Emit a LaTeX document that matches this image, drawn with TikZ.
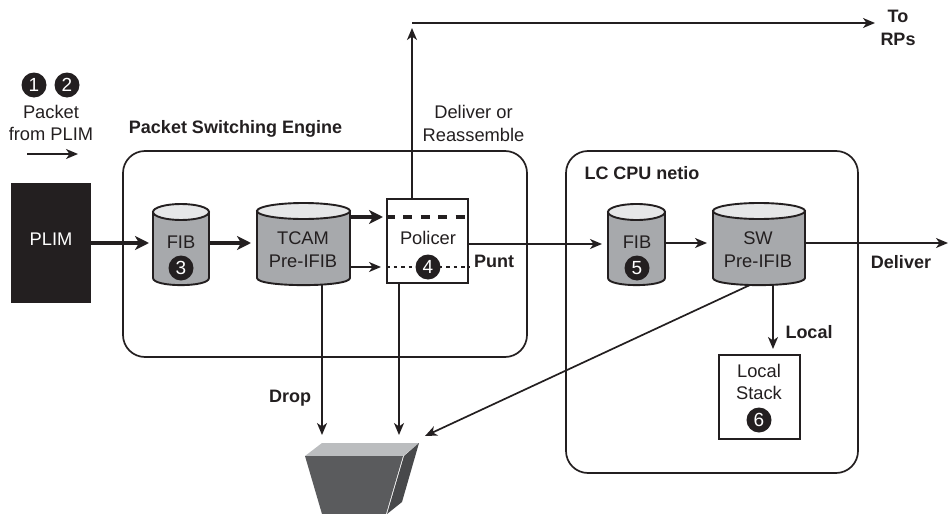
\documentclass[tikz,border=0pt]{standalone}
\usepackage{fontspec}
\setmainfont{Liberation Sans}
\usetikzlibrary{arrows.meta}
\definecolor{ink}{HTML}{231F20}
\definecolor{cylgray}{HTML}{A7A9AC}
\definecolor{cyltop}{HTML}{E6E7E8}
\definecolor{bintop}{HTML}{BBBDBF}
\definecolor{binfront}{HTML}{5A5B5D}
\definecolor{binside}{HTML}{48494B}
\tikzset{
  x=1pt,y=-1pt,
  txt/.style={font=\fontsize{18.3}{22.5}\selectfont,text=ink,align=center,inner sep=0pt},
  btxt/.style={font=\fontsize{18}{23}\bfseries\selectfont,text=ink,align=center,inner sep=0pt},
  wire/.style={draw=ink,line width=1.7pt,-{Stealth[length=12pt,width=10pt,inset=3.5pt]}},
  thick wire/.style={draw=ink,line width=3.6pt,-{Stealth[length=14pt,width=14pt,inset=4pt]}},
  panel/.style={draw=ink,line width=1.7pt,rounded corners=22pt},
  whitebox/.style={draw=ink,line width=1.9pt,fill=white,minimum width=81pt,minimum height=84pt,inner sep=0pt},
  badge/.style={circle,fill=ink,text=white,minimum size=25pt,inner sep=0pt,font=\fontsize{19}{20}\selectfont},
}
\newcommand{\cyl}[5]{% name, x0, x1, ytop center, ybottom side
  \path[fill=cylgray,draw=ink,line width=1.9pt] (#2,#4) -- (#2,#5) .. controls (#2,#5+9.5) and (#3,#5+9.5) .. (#3,#5) -- (#3,#4) -- cycle;
  \path[fill=cyltop,draw=ink,line width=1.9pt] ({(#2+#3)/2},#4) ellipse[x radius={(#3-#2)/2},y radius=8];
  \coordinate (#1 w) at (#2,243);
  \coordinate (#1 e) at (#3,243);
}
\begin{document}
\begin{tikzpicture}
\useasboundingbox (0,0) rectangle (948,514);
% panels
\draw[panel] (123,151) rectangle (527,357);
\draw[panel] (566,151) rectangle (858,473);
% bin
\fill[bintop] (322,443) -- (419,443) -- (403,456) -- (305,456) -- cycle;
\fill[binfront] (305,456) -- (403,456) -- (386,514) -- (322,514) -- cycle;
\fill[binside] (404,456) -- (419,443) -- (402,502) -- (387,514) -- cycle;
\coordinate (bin a) at (322,435);
\coordinate (bin b) at (399,435);
\coordinate (bin c) at (425,436);
% PLIM
\node[fill=ink,minimum width=80pt,minimum height=120pt,inner sep=0pt] (plim) at (51,243) {};
\node[font=\fontsize{18.3}{22}\selectfont,text=white,inner sep=0pt] (plimt) at (51,239) {PLIM};
% cylinders
\cyl{fibA}{153}{209}{212}{278}
\cyl{tcam}{257}{350}{211}{278}
\cyl{fibB}{608}{665}{212}{278}
\cyl{sw}{713}{805}{211}{278}
\node[txt] (fibAt) at (181,242) {FIB};
\node[badge] (b3) at (181,268) {3};
\node[txt] (tcamt) at (303,249.5) {TCAM\\Pre-IFIB};
\node[txt] (fibBt) at (637,242) {FIB};
\node[badge] (b5) at (637,268) {5};
\node[txt] (swt) at (758,249.5) {SW\\Pre-IFIB};
% policer
\node[whitebox] (pol) at (427.5,241) {};
\draw[ink,line width=4pt,dash pattern=on 9pt off 8.4pt] (pol.west|-0,217) -- (pol.east|-0,217);
\draw[ink,line width=1.8pt,dash pattern=on 3.5pt off 4pt] (pol.west|-0,267) -- (pol.east|-0,267);
\node[txt] (polt) at (428,238) {Policer};
\node[badge] (b4) at (428,267) {4};
% local stack
\node[whitebox] (stack) at (759.5,397) {};
\node[txt] (stackt) at (759,382) {Local\\Stack};
\node[badge] (b6) at (759,420) {6};
% top-left labels
\node[badge] (b1) at (34,85) {1};
\node[badge] (b2) at (67,85) {2};
\node[txt] (pkt) at (51,123) {Packet\\from PLIM};
\coordinate (pa) at (27,154);
\coordinate (pb) at (78,154);
\draw[wire] (pa) -- (pb);
% connectors
\coordinate (fibA in) at (149,243);
\coordinate (tcam in) at (251,243);
\draw[thick wire] (plim.east|-0,243) -- (fibA in);
\draw[thick wire] (fibA e) -- (tcam in);
\coordinate (tcam up) at (350,217);
\coordinate (pol up) at (383,217);
\coordinate (tcam lo) at (350,267);
\coordinate (pol lo) at (381,267);
\draw[thick wire] (tcam up) -- (pol up);
\draw[wire] (tcam lo) -- (pol lo);
\coordinate (pun) at (468,244);
\coordinate (fibB in) at (602,244);
\coordinate (sw in) at (707,243);
\coordinate (out) at (948,243);
\draw[wire] (pun) -- (fibB in);
\draw[wire] (fibB e) -- (sw in);
\draw[wire] (sw e) -- (out);
\coordinate (tcam s) at (322,285);
\coordinate (pol s) at (399,283);
\coordinate (sw s) at (750,285);
\coordinate (sw l) at (773,285);
\coordinate (stack n) at (773,349);
\draw[wire] (tcam s) -- (bin a);
\draw[wire] (pol s) -- (bin b);
\draw[wire] (sw s) -- (bin c);
\draw[wire] (sw l) -- (stack n);
\coordinate (pol n) at (412,199);
\coordinate (up) at (412,28);
\coordinate (tl) at (412,23);
\coordinate (tr) at (875,23);
\draw[wire] (pol n) -- (up);
\draw[wire] (tl) -- (tr);
% labels
\node[btxt] (pse) at (235.5,129) {Packet Switching Engine};
\node[btxt] (lcc) at (642,173) {LC CPU netio};
\node[txt] (dor) at (473.5,123.5) {Deliver or\\Reassemble};
\node[btxt] (pnt) at (494,261) {Punt};
\node[btxt] (dlv) at (901,262) {Deliver};
\node[btxt] (lcl) at (809,332) {Local};
\node[btxt] (drp) at (290,398) {Drop};
\node[btxt] (rps) at (898,27.5) {To\\RPs};
\end{tikzpicture}
\end{document}
